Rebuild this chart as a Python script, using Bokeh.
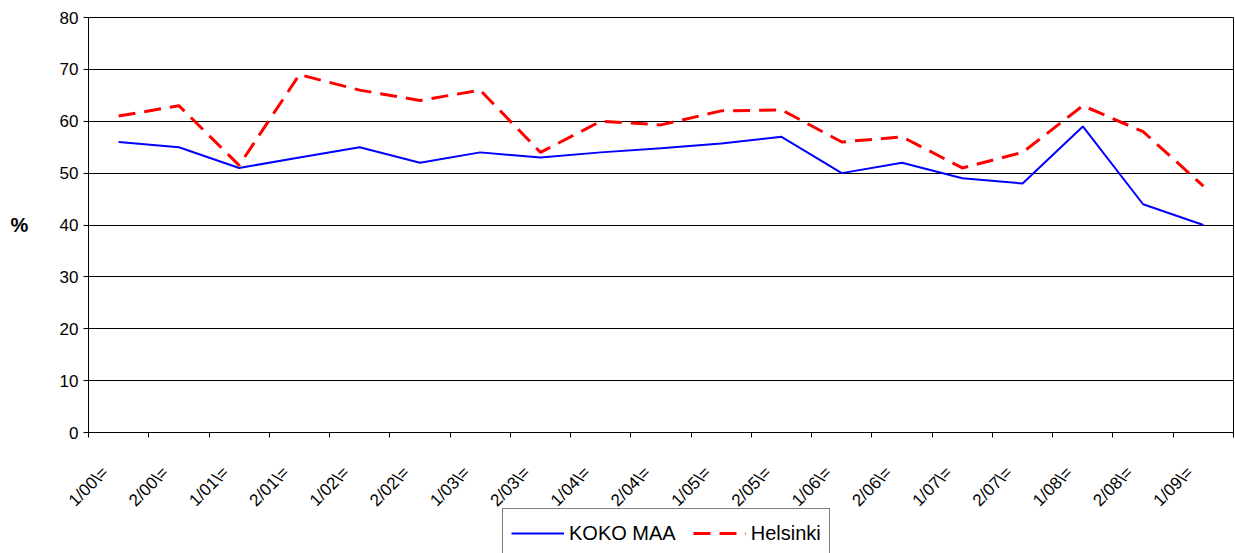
import math
from bokeh.plotting import figure
from bokeh.models import FixedTicker, Legend, LegendItem, Range1d, LinearAxis, Label
from bokeh.embed import file_html
from bokeh.resources import INLINE

categories = ["1/00\\=", "2/00\\=", "1/01\\=", "2/01\\=", "1/02\\=", "2/02\\=", "1/03\\=",
              "2/03\\=", "1/04\\=", "2/04\\=", "1/05\\=", "2/05\\=", "1/06\\=", "2/06\\=",
              "1/07\\=", "2/07\\=", "1/08\\=", "2/08\\=", "1/09\\="]
koko_maa = [56, 55, 51, 53, 55, 52, 54, 53, 54, 54.8, 55.7, 57, 50, 52, 49, 48, 59, 44, 40]
helsinki = [61, 63, 51.5, 69, 66, 64, 66, 54, 60, 59.3, 62, 62.2, 56, 57, 51, 54, 63, 58, 47.5]
y_ticks = [0, 10, 20, 30, 40, 50, 60, 70, 80]
series_names = ["KOKO MAA", "Helsinki"]
y_title = "%"

n = len(categories)
xs = [i + 0.5 for i in range(n)]
FONT = "Liberation Sans"
BLUE = "#0000FF"
RED = "#FF0000"
RED_DASH = "17 9"

W, H = 1235, 553
# pixel box of the 0..80 plotting area inside the page
BOX_L, BOX_R, BOX_T, BOX_B = 88, 1233, 17, 432
Y_MIN, Y_MAX = 0, 80
sx = (BOX_R - BOX_L) / n
sy = (BOX_B - BOX_T) / (Y_MAX - Y_MIN)
x_range = Range1d(-BOX_L / sx, n + (W - BOX_R) / sx)
y_range = Range1d(Y_MIN - (H - BOX_B) / sy, Y_MAX + BOX_T / sy)
LABEL_SHIFT = 0.22  # visual shift of rotated category labels

p = figure(width=W, height=H, output_backend="svg", toolbar_location=None,
           x_range=x_range, y_range=y_range,
           min_border_left=0, min_border_right=0, min_border_top=0,
           min_border_bottom=0)
p.background_fill_color = "white"
p.border_fill_color = "white"
p.outline_line_color = None

p.xgrid.visible = False
p.ygrid.grid_line_color = "black"
p.ygrid.grid_line_width = 1
p.ygrid.ticker = FixedTicker(ticks=y_ticks)
p.ygrid.bounds = (Y_MIN, Y_MAX)
p.ygrid.cross_bounds = (0, n)

p.yaxis.fixed_location = 0
p.yaxis.ticker = FixedTicker(ticks=y_ticks)
p.yaxis.bounds = (Y_MIN, Y_MAX)
p.yaxis.major_label_text_font = FONT
p.yaxis.major_label_text_font_size = "17px"
p.yaxis.major_label_text_color = "black"
p.yaxis.axis_line_color = "black"
p.yaxis.major_tick_line_color = "black"
p.yaxis.major_tick_out = 5
p.yaxis.major_tick_in = 0
p.yaxis.minor_tick_line_color = None

right = LinearAxis(ticker=FixedTicker(ticks=[]), bounds=(Y_MIN, Y_MAX), fixed_location=n,
                   axis_line_color="black", major_tick_line_color=None,
                   minor_tick_line_color=None, major_label_text_font_size="0px",
                   major_tick_out=0, major_label_standoff=0)
p.add_layout(right, "right")

label_pos = [x - LABEL_SHIFT for x in xs]
p.xaxis.fixed_location = Y_MIN
p.xaxis.bounds = (0, n)
p.xaxis.ticker = FixedTicker(ticks=label_pos, minor_ticks=list(range(n + 1)))
p.xaxis.major_label_overrides = {x: c for x, c in zip(label_pos, categories)}
p.xaxis.major_label_orientation = math.pi / 4
p.xaxis.major_label_text_font = FONT
p.xaxis.major_label_text_font_size = "17px"
p.xaxis.major_label_text_color = "black"
p.xaxis.major_tick_line_color = None
p.xaxis.minor_tick_line_color = "black"
p.xaxis.minor_tick_out = 5
p.xaxis.minor_tick_in = 0
p.xaxis.axis_line_color = "black"
p.xaxis.major_label_standoff = 31

r1 = p.line(xs, koko_maa, line_color=BLUE, line_width=2)
r2 = p.line(xs, helsinki, line_color=RED, line_width=3, line_dash=RED_DASH)

legend = Legend(items=[LegendItem(label=series_names[0], renderers=[r1]),
                       LegendItem(label=series_names[1], renderers=[r2])],
                orientation="horizontal", location=(502, -5),
                label_text_font=FONT, label_text_font_size="20px",
                label_text_color="black",
                label_standoff=5, label_height=32, glyph_height=32,
                border_line_color="black", border_line_width=1,
                glyph_width=53, spacing=17, padding=8, margin=0)
p.add_layout(legend)

p.add_layout(Label(x=10, x_units="screen", y=(Y_MIN + Y_MAX) / 2, y_units="data",
                   text=y_title, text_font=FONT, text_font_size="20px",
                   text_font_style="bold", text_color="black",
                   text_baseline="middle", text_align="left"))

open("out.html", "w").write(file_html(p, INLINE))
